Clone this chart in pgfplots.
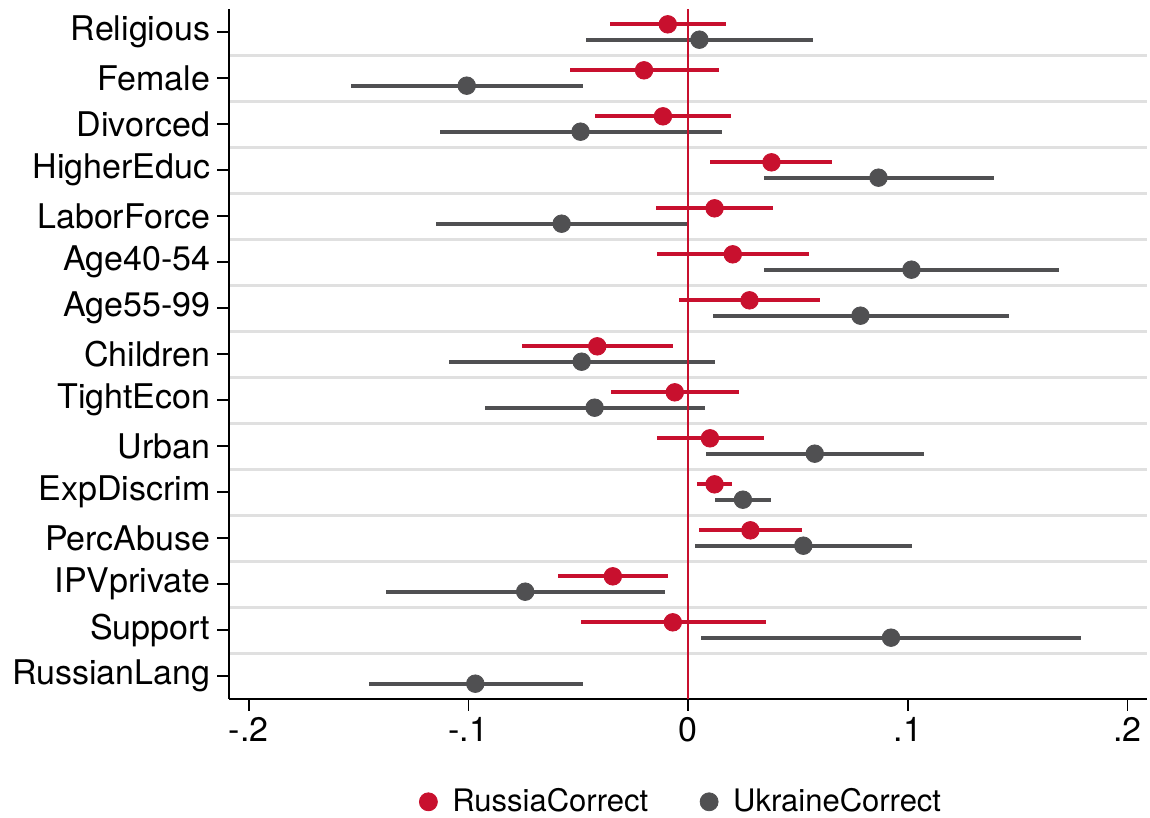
\documentclass[border=0pt]{standalone}
\usepackage{fontspec}
\setmainfont{TeX Gyre Heros}
\usepackage{pgfplots}
\pgfplotsset{compat=1.18}
\usepackage{pgfplotstable}
\definecolor{rus}{RGB}{200,16,46}
\definecolor{ukr}{RGB}{80,80,82}
\definecolor{gridc}{RGB}{224,224,224}

\pgfplotstableread{
y b lo hi
0.833 -0.0093 -0.0354 0.0172
1.833 -0.0201 -0.0538 0.0141
2.833 -0.0115 -0.0425 0.0196
3.833 0.0379 0.0101 0.0656
4.833 0.0120 -0.0147 0.0388
5.833 0.0203 -0.0141 0.0550
6.833 0.0279 -0.0043 0.0602
7.833 -0.0414 -0.0757 -0.0068
8.833 -0.0061 -0.0351 0.0233
9.833 0.0099 -0.0144 0.0345
10.833 0.0120 0.0042 0.0201
11.833 0.0283 0.0048 0.0516
12.833 -0.0343 -0.0593 -0.0091
13.833 -0.0070 -0.0490 0.0353
}\russia

\pgfplotstableread{
y b lo hi
1.167 0.0051 -0.0464 0.0569
2.167 -0.1008 -0.1534 -0.0479
3.167 -0.0490 -0.1131 0.0153
4.167 0.0866 0.0343 0.1391
5.167 -0.0576 -0.1150 0.0000
6.167 0.1016 0.0345 0.1688
7.167 0.0784 0.0112 0.1458
8.167 -0.0485 -0.1087 0.0123
9.167 -0.0426 -0.0927 0.0077
10.167 0.0576 0.0082 0.1073
11.167 0.0249 0.0122 0.0379
12.167 0.0524 0.0029 0.1017
13.167 -0.0742 -0.1377 -0.0105
14.167 0.0923 0.0059 0.1787
15.167 -0.0969 -0.1454 -0.0479
}\ukraine

\begin{document}
\begin{tikzpicture}
\useasboundingbox (-114.5pt,-59.5pt) rectangle (460.5pt,349.5pt);
\begin{axis}[
  scale only axis,
  width=459.2pt, height=345pt,
  xmin=-0.209, xmax=0.209,
  ymin=0.5, ymax=15.5,
  y dir=reverse,
  axis x line*=bottom, axis y line*=left,
  axis line style={-, line width=0.8pt, black},
  xtick={-0.2,-0.1,0,0.1,0.2},
  xticklabels={-.2,-.1,0,.1,.2},
  ytick={1,...,15},
  yticklabels={Religious,Female,Divorced,HigherEduc,LaborForce,Age40-54,Age55-99,Children,TightEcon,Urban,ExpDiscrim,PercAbuse,IPVprivate,Support,RussianLang},
  minor ytick={1.5,2.5,...,14.5},
  yminorgrids=true,
  minor grid style={gridc, line width=1.5pt},
  tick align=outside,
  major tick length=5.8pt,
  minor tick length=0pt,
  major tick style={black, line width=0.8pt},
  ticklabel style={font=\fontsize{17}{20}\selectfont},
  legend style={at={(0.4935,-0.149)}, anchor=center, draw=none, fill=none,
    legend columns=2, font=\fontsize{15.5}{18}\selectfont,
    /tikz/every odd column/.append style={column sep=5.5pt},
    /tikz/every even column/.append style={column sep=24pt}},
  legend image code/.code={\draw[#1] plot coordinates {(0pt,0pt)};},
]
\addlegendimage{only marks, mark=*, mark size=4.5pt, rus, mark options={fill=rus, draw=rus}}
\addlegendentry{RussiaCorrect}
\addlegendimage{only marks, mark=*, mark size=4.5pt, ukr, mark options={fill=ukr, draw=ukr}}
\addlegendentry{UkraineCorrect}

\addplot[forget plot, only marks, mark=*, mark size=4.4pt, mark options={fill=rus, draw=rus},
  error bars/.cd, x dir=both, x explicit, error mark=none,
  error bar style={line width=2pt, rus}]
  table[x=b, y=y, x error plus expr=\thisrow{hi}-\thisrow{b}, x error minus expr=\thisrow{b}-\thisrow{lo}] {\russia};

\addplot[forget plot, only marks, mark=*, mark size=4.4pt, mark options={fill=ukr, draw=ukr},
  error bars/.cd, x dir=both, x explicit, error mark=none,
  error bar style={line width=2pt, ukr}]
  table[x=b, y=y, x error plus expr=\thisrow{hi}-\thisrow{b}, x error minus expr=\thisrow{b}-\thisrow{lo}] {\ukraine};

\addplot[forget plot, rus, line width=1pt] coordinates {(0,0.5) (0,15.5)};
\end{axis}
\end{tikzpicture}
\end{document}
